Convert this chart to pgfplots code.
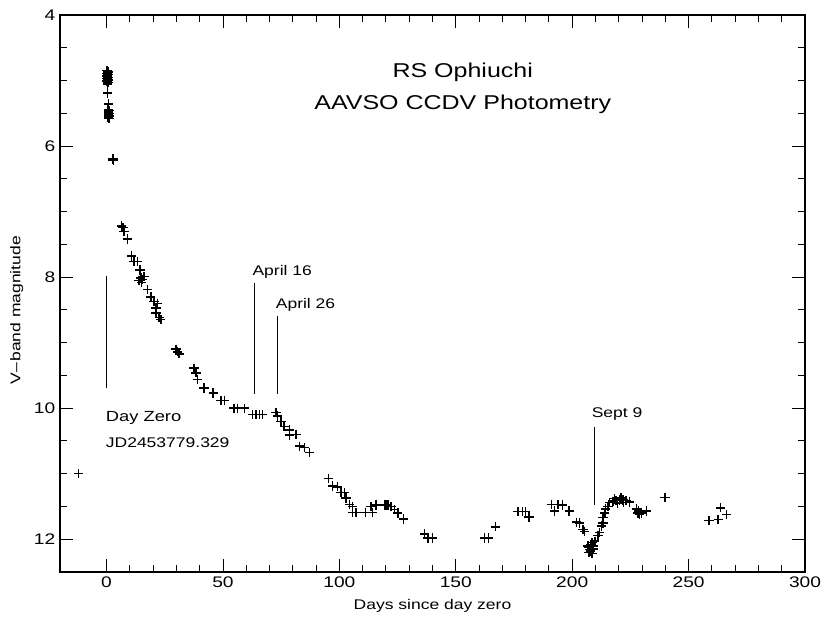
\documentclass[border=0pt]{standalone}
\usepackage{pgfplots}
\pgfplotsset{compat=1.18}
\usepackage{fontspec}
\setmainfont{Liberation Sans}[FakeStretch=1.25]
\begin{document}
\begin{tikzpicture}
\path[use as bounding box] (-45pt,-38.25pt) rectangle (573pt,429pt);
\begin{axis}[
  at={(0,0)}, anchor=south west,
  scale only axis, width=558.75pt, height=417.75pt,
  xmin=-20, xmax=300, ymin=4, ymax=12.5, y dir=reverse,
  xtick={0,50,...,300}, minor x tick num=4,
  ytick={4,6,8,10,12}, minor y tick num=3,
  tick align=inside, tick pos=both,
  xticklabel pos=left, yticklabel pos=left,
  major tick length=10pt, minor tick length=5pt,
  every tick/.style={black, line width=0.7pt},
  axis line style={black, line width=0.9pt},
  /pgf/number format/assume math mode=true,
  ticklabel style={font=\fontsize{11.5}{13}\selectfont},
  label style={font=\fontsize{10.5}{12}\selectfont},
  xlabel={Days since day zero},
  ylabel={V\kern0.5pt--\kern0.5pt band magnitude},
  xlabel style={at={(axis description cs:0.5,-0.061)}, anchor=center},
  ylabel style={at={(axis description cs:-0.058,0.47)}, anchor=center},
  clip=false,
]
\addplot[only marks, mark=+, mark size=3.5pt, mark options={line width=1.1pt}, black] coordinates {
(-12,11.0)
(0.2,4.85) (0.6,4.87) (0.2,4.89) (0.6,4.91) (0.2,4.93) (0.6,4.95) (0.2,4.97)
(0.6,4.99) (0.2,5.01) (0.6,5.03) (0.4,5.05)
(0.35,5.19) (0.8,5.36)
(0.7,5.44) (1.1,5.46) (0.7,5.48) (1.1,5.50) (0.7,5.52) (1.1,5.54) (0.7,5.56) (1.1,5.58)
(2.5,6.21) (3.0,6.22) (2.8,6.20)
(6.5,7.22) (7.0,7.24) (7.5,7.30) (8.9,7.42) (10.8,7.68) (11.8,7.76) (13.2,7.76)
(14.3,7.89) (14.0,8.05) (14.7,8.01) (15.4,8.04) (16.1,7.99) (15.0,8.08)
(17.6,8.19) (19.0,8.30) (20.4,8.37) (21.8,8.40) (21.2,8.47) (21.2,8.55)
(22.6,8.62) (23.3,8.65)
(29.8,9.10) (30.5,9.14) (31.2,9.17) (37.6,9.39) (38.4,9.46) (39.1,9.56)
(41.9,9.69) (45.8,9.77) (49.1,9.88) (50.6,9.88) (54.8,10.0) (56.3,10.0)
(59.2,10.0) (62.7,10.10) (64.1,10.10) (65.6,10.10) (67.0,10.10) (72.8,10.07)
(73.5,10.12) (74.9,10.2) (76.3,10.28) (78.5,10.33) (78.5,10.41) (81.4,10.40)
(82.8,10.58) (85.0,10.6) (87.1,10.68)
(95.4,11.07) (97.1,11.19) (99.3,11.20) (100.7,11.29) (102.2,11.29) (102.9,11.37)
(104.3,11.47) (105.7,11.50) (105.7,11.59) (107.2,11.59) (111.2,11.59)
(113.6,11.50) (114.3,11.59) (115.8,11.48) (119.4,11.48) (120.1,11.48)
(120.8,11.48) (122.2,11.50) (123.7,11.55) (125.1,11.60) (127.5,11.69)
(136.6,11.92) (138.0,11.98) (139.9,11.98) (162.3,11.98) (164.0,11.98)
(167.1,11.81) (176.7,11.58) (178.6,11.58) (180.0,11.58) (181.4,11.66)
(191.0,11.47) (192.5,11.57) (193.9,11.47) (195.8,11.48) (198.7,11.57)
(201.8,11.74) (203.2,11.75) (204.6,11.85) (205.3,11.88) (206.8,12.10)
(207.5,12.16) (208.2,12.14) (208.9,12.10) (207.2,12.20) (208.5,12.05)
(207.0,12.13) (208.0,12.18) (209.0,12.15) (208.6,12.22) (207.8,12.08)
(209.7,12.03) (211.1,11.94) (211.8,11.90) (212.5,11.80) (213.2,11.75)
(213.2,11.67) (214.0,11.60) (214.4,11.54) (215.4,11.50) (216.1,11.44)
(217.5,11.42) (218.9,11.41) (220.4,11.40) (221.8,11.40) (223.2,11.41)
(224.7,11.43) (219.5,11.45) (222.0,11.44) (218.2,11.38) (221.0,11.37)
(227.6,11.54) (228.3,11.60) (229.0,11.62) (229.8,11.60) (231.9,11.57) (228.5,11.57)
(239.8,11.36) (258.8,11.71) (262.7,11.70) (263.7,11.52) (266.3,11.62)
};
\addplot[black, line width=0.6pt] coordinates {(0,7.99) (0,9.69)};
\addplot[black, line width=0.6pt] coordinates {(63.5,8.09) (63.5,9.79)};
\addplot[black, line width=0.6pt] coordinates {(73.5,8.59) (73.5,9.79)};
\addplot[black, line width=0.6pt] coordinates {(209.5,10.28) (209.5,11.47)};
\node[font=\fontsize{15}{18}\selectfont] at (axis cs:153,4.87) {RS Ophiuchi};
\node[font=\fontsize{15}{18}\selectfont] at (axis cs:153,5.37) {AAVSO CCDV Photometry};
\node[font=\fontsize{10.5}{12}\selectfont, anchor=west, inner sep=0pt] at (axis cs:62.6,7.92) {April 16};
\node[font=\fontsize{10.5}{12}\selectfont, anchor=west, inner sep=0pt] at (axis cs:72.6,8.42) {April 26};
\node[font=\fontsize{11}{12}\selectfont, anchor=west, inner sep=0pt] at (axis cs:-0.4,10.15) {Day Zero};
\node[font=\fontsize{10.5}{12}\selectfont, anchor=west, inner sep=0pt] at (axis cs:-0.4,10.53) {JD2453779.329};
\node[font=\fontsize{10.5}{12}\selectfont, anchor=west, inner sep=0pt] at (axis cs:208.3,10.09) {Sept 9};
\end{axis}
\end{tikzpicture}
\end{document}
